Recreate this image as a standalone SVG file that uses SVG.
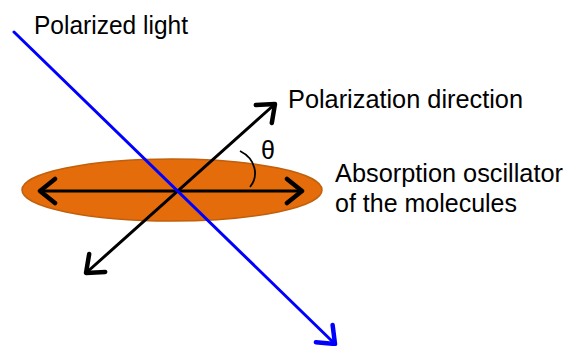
<svg xmlns="http://www.w3.org/2000/svg" width="567" height="346" viewBox="0 0 567 346">
<style>
.t{font-family:"Liberation Sans",Arial,sans-serif;font-size:25px;fill:#000}
.ln{fill:none;stroke-width:3;stroke-linecap:round}
</style>
<defs>
<marker id="ab" markerUnits="userSpaceOnUse" markerWidth="30" markerHeight="30" refX="14" refY="10" orient="auto-start-reverse" viewBox="0 0 20 20">
<polyline points="4,2 14,10 4,18" fill="none" stroke="#000" stroke-width="3" stroke-linecap="round" stroke-linejoin="round"/>
</marker>
<marker id="bb" markerUnits="userSpaceOnUse" markerWidth="30" markerHeight="30" refX="14" refY="10" orient="auto" viewBox="0 0 20 20">
<polyline points="4,2 14,10 4,18" fill="none" stroke="#0000FF" stroke-width="3" stroke-linecap="round" stroke-linejoin="round"/>
</marker>
</defs>
<g id="molecule">
<ellipse cx="172" cy="190" rx="150" ry="31" fill="#E46C0A" stroke="#C0600C" stroke-width="1.5"/>
</g>
<g id="connectors">
<line class="ln" x1="40" y1="191" x2="302" y2="191" stroke="#000" marker-start="url(#ab)" marker-end="url(#ab)"/>
<line class="ln" x1="86" y1="273" x2="275" y2="104" stroke="#000" marker-start="url(#ab)" marker-end="url(#ab)"/>
<line class="ln" x1="14" y1="32" x2="335" y2="344" stroke="#0000FF" marker-end="url(#bb)"/>
<path d="M240,151 C256,159 259,176 250,187" fill="none" stroke="#000" stroke-width="1.8"/>
</g>
<g id="labels">
<text class="t" x="34" y="34" textLength="154" lengthAdjust="spacingAndGlyphs">Polarized light</text>
<text class="t" x="288" y="108" textLength="235" lengthAdjust="spacingAndGlyphs">Polarization direction</text>
<text class="t" x="261" y="159" style="font-size:25px">θ</text>
<text class="t" x="335" y="182" textLength="228" lengthAdjust="spacingAndGlyphs">Absorption oscillator</text>
<text class="t" x="335" y="212" textLength="182" lengthAdjust="spacingAndGlyphs">of the molecules</text>
</g>
</svg>
